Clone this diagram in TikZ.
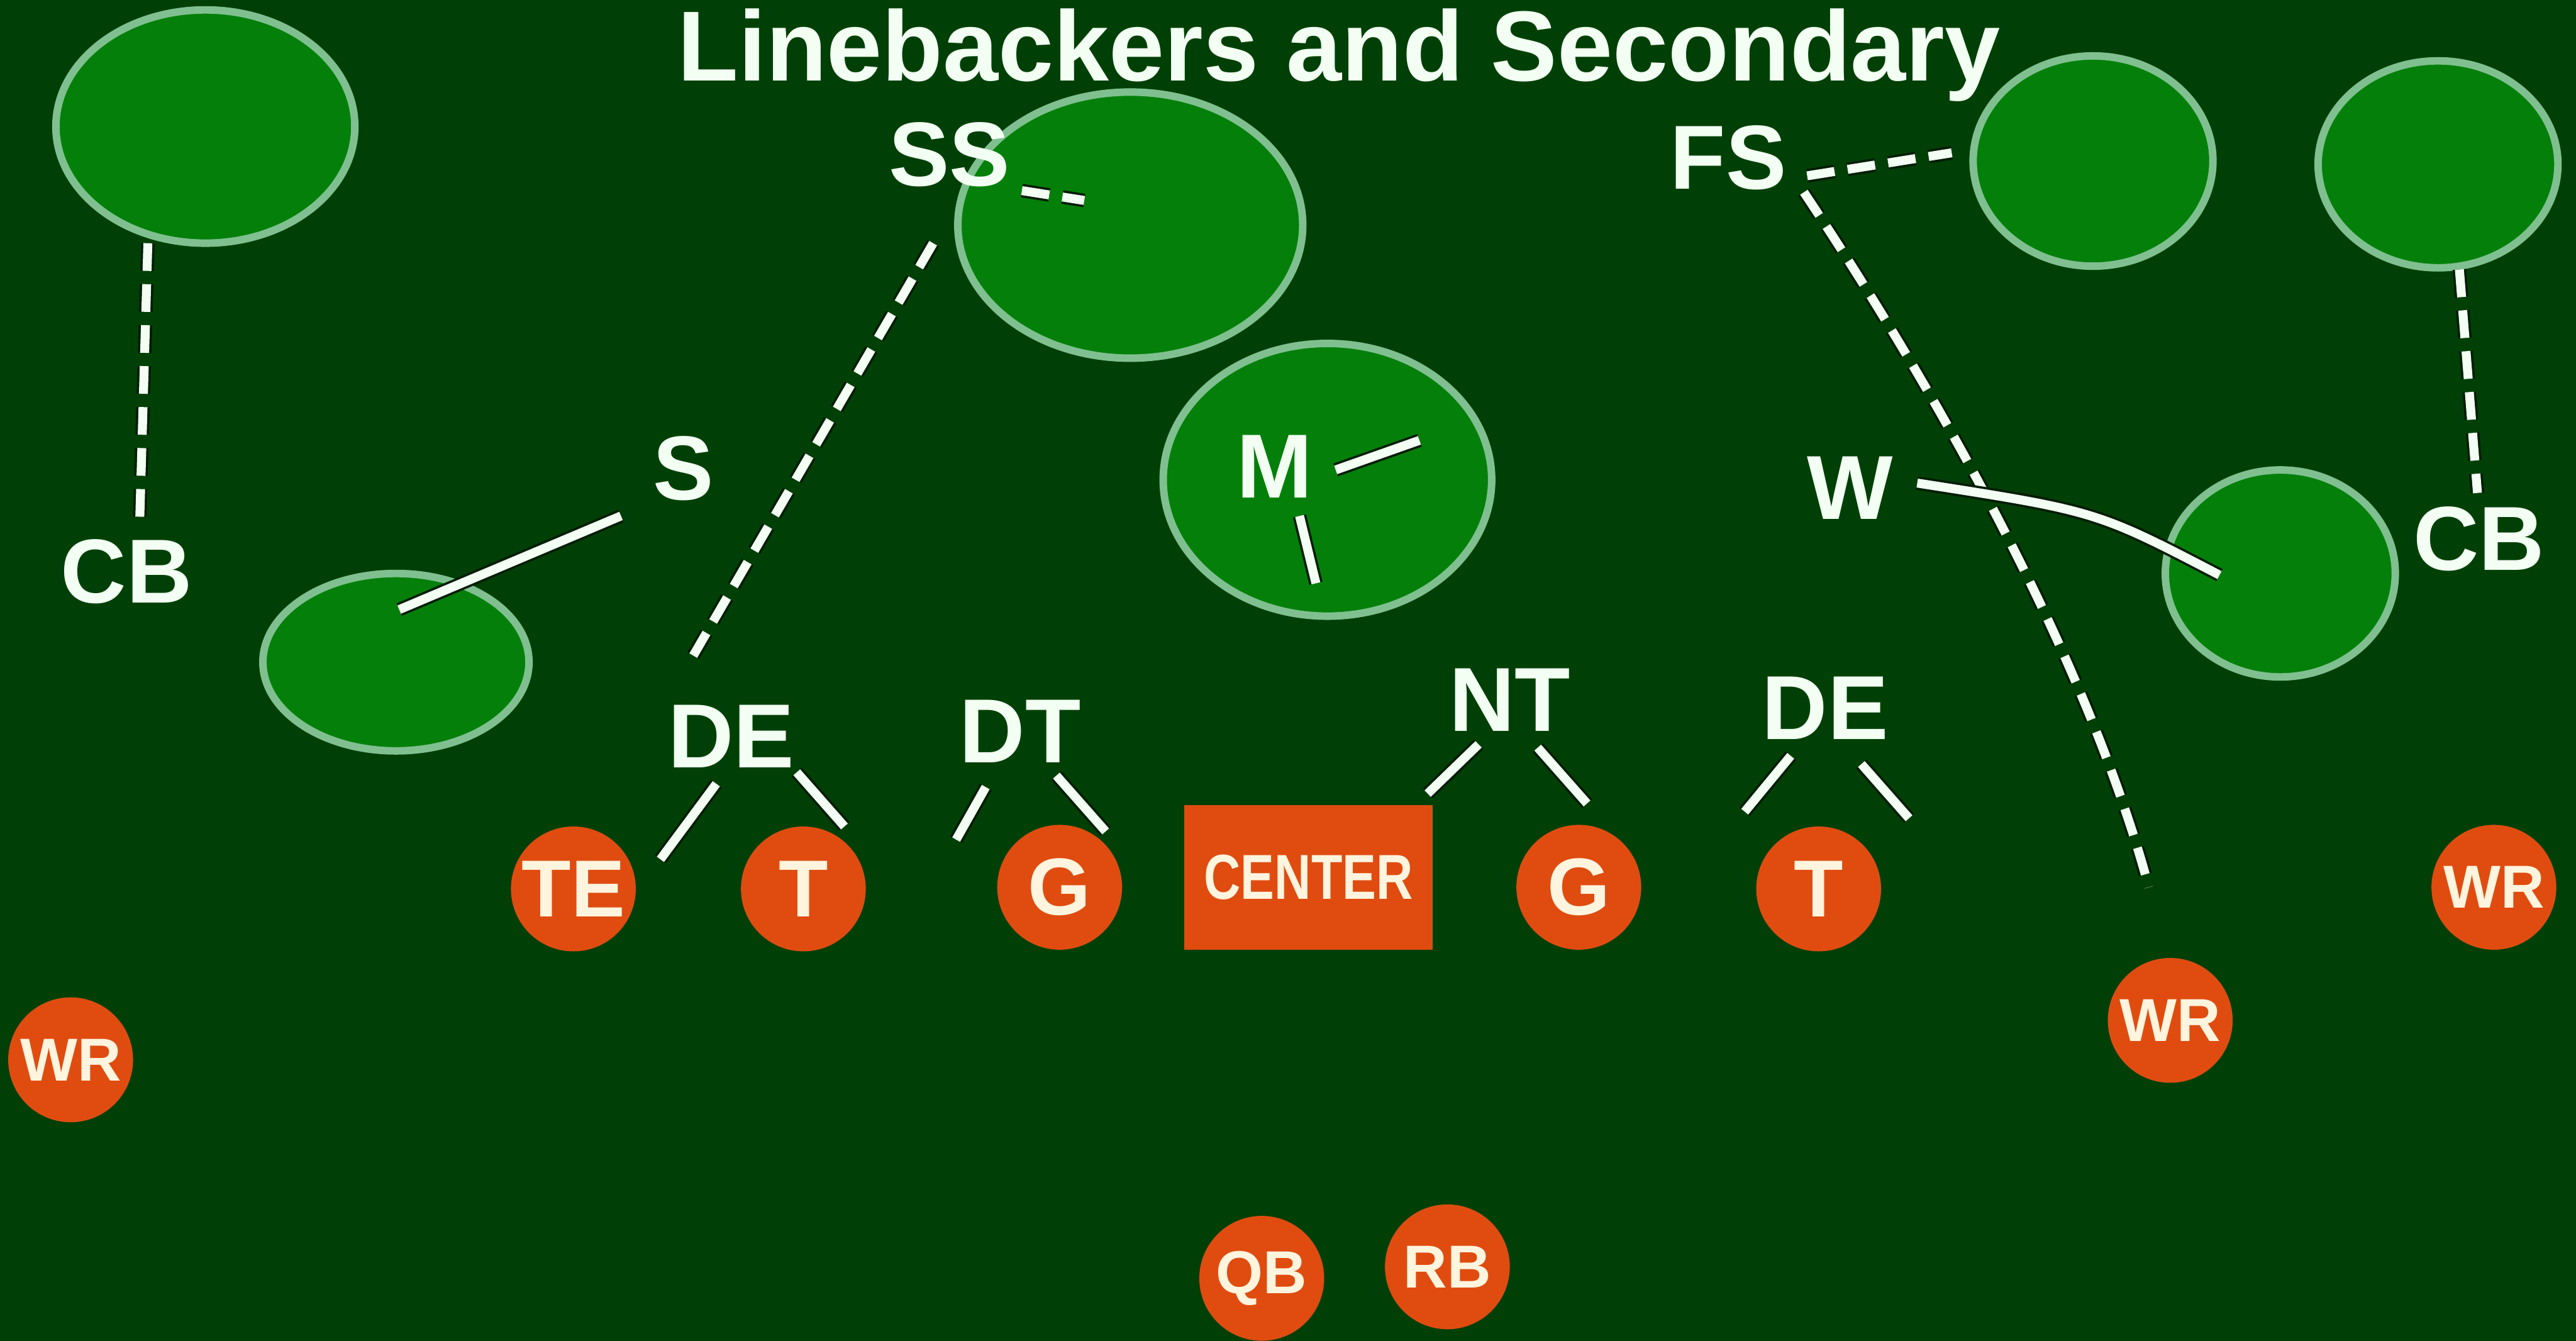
\documentclass[tikz,border=0pt]{standalone}
\usepackage{fontspec}
\setmainfont{Liberation Sans}
\usetikzlibrary{shapes.geometric,calc}
\definecolor{field}{RGB}{0,64,6}
\definecolor{zonefill}{RGB}{4,128,10}
\definecolor{zoneedge}{RGB}{128,192,144}
\definecolor{orng}{RGB}{224,76,16}
\definecolor{cream}{RGB}{255,244,222}
\definecolor{chalk}{RGB}{242,255,242}
\definecolor{shade}{RGB}{0,28,4}
\begin{document}
\begin{tikzpicture}[x=0.02cm,y=-0.02cm,
  zone/.style={ellipse, draw=zoneedge, line width=2.6pt, fill=zonefill, inner sep=0pt},
  lbl/.style={text=chalk, font=\bfseries\fontsize{31.5}{31.5}\selectfont, inner sep=0pt},
  player/.style={circle, fill=orng, minimum size=1.52cm, inner sep=0pt, text=cream, font=\bfseries\fontsize{28}{28}\selectfont},
  smallp/.style={font=\bfseries\fontsize{21}{21}\selectfont},
  solidline/.style={draw=shade, line width=0.8pt, double=chalk, double distance=3.1pt},
  dashline/.style={solidline, dash pattern=on 9.6pt off 4.6pt}]
\useasboundingbox (0,0) rectangle (1568,816);
\fill[field] (0,0) rectangle (1568,816);

% title
\node[text=chalk, inner sep=0pt, anchor=base, font=\bfseries\fontsize{34.5}{34.5}\selectfont] (title) at (815,49) {Linebackers and Secondary};

% coverage zones
\node[zone, minimum width=3.64cm, minimum height=2.84cm] (ellTL) at (125,77) {};
\node[zone, minimum width=4.2cm, minimum height=3.24cm] (ellSS) at (688,137) {};
\node[zone, minimum width=4.0cm, minimum height=3.32cm] (ellM) at (808,292) {};
\node[zone, minimum width=2.92cm, minimum height=2.56cm] (ellFS) at (1274,98) {};
\node[zone, minimum width=2.92cm, minimum height=2.52cm] (ellFR) at (1484,100) {};
\node[zone, minimum width=3.24cm, minimum height=2.16cm] (ellS) at (241,403) {};
\node[zone, minimum width=2.8cm, minimum height=2.52cm] (ellW) at (1388,349) {};

% defensive labels
\node[lbl] (cbL) at (77,348) {CB};
\node[lbl] (s) at (416,285) {S};
\node[lbl] (ss) at (578,94) {SS};
\node[lbl] (fs) at (1052,96) {FS};
\node[lbl] (m) at (776,284) {M};
\node[lbl] (w) at (1126,297) {W};
\node[lbl] (cbR) at (1509,328) {CB};
\node[lbl] (deL) at (445,448) {DE};
\node[lbl] (dt) at (621,445) {DT};
\node[lbl] (nt) at (919,426) {NT};
\node[lbl] (deR) at (1111,431) {DE};

% offense
\node[player] (teC) at (349,541) {TE};
\node[player] (tL) at (489,541) {T};
\node[player] (gL) at (645,540) {G};
\node[rectangle, fill=orng, minimum width=3.02cm, minimum height=1.76cm, inner sep=0pt, text=cream, font=\bfseries\fontsize{22}{22}\selectfont] (ctr) at (796.5,534) {\scalebox{0.8}[1]{CENTER}};
\node[player] (gR) at (961,540) {G};
\node[player] (tR) at (1107,541) {T};
\node[player, smallp] (wrFR) at (1518,540) {WR};
\node[player, smallp] (wrR) at (1321,621) {WR};
\node[player, smallp] (wrL) at (43,645) {WR};
\node[player, smallp] (qb) at (768,778) {QB};
\node[player, smallp] (rb) at (881,771) {RB};

% dashed assignments
\draw[dashline] ($(ellTL)+(-35,71)$) -- ($(cbL)+(8,-30)$);
\draw[dashline] ($(ss)+(-10,54)$) -- ($(deL)+(-23,-49)$);
\draw[dashline] ($(ss)+(44,22)$) -- ($(ss)+(82,28)$);
\draw[dashline] ($(fs)+(48,11)$) -- ($(ellFS)+(-86,-5)$);
\draw[dashline] ($(fs)+(46,21)$) .. controls ($(fs)+(128,144)$) and ($(wrR)+(-51,-221)$) .. ($(wrR)+(-13,-81)$);
\draw[dashline] ($(ellFR)+(13,64)$) -- ($(cbR)+(-1,-28)$);

% solid assignments
\draw[solidline] ($(s)+(-38,29)$) -- ($(ellS)+(2,-32)$);
\draw[solidline] ($(m)+(37,2)$) -- ($(m)+(88,-16)$);
\draw[solidline] ($(m)+(15,30)$) -- ($(m)+(25,71)$);
\draw[solidline] ($(w)+(41,-3)$) .. controls ($(ellW)+(-112,-38)$) .. ($(ellW)+(-37,1)$);

% line gaps
\draw[solidline] ($(deL)+(-9,29)$) -- ($(deL)+(-43,75)$);
\draw[solidline] ($(deL)+(40,22)$) -- ($(deL)+(69,55)$);
\draw[solidline] ($(dt)+(-21,34)$) -- ($(dt)+(-39,66)$);
\draw[solidline] ($(dt)+(22,27)$) -- ($(dt)+(52,61)$);
\draw[solidline] ($(nt)+(-19,27)$) -- ($(nt)+(-50,57)$);
\draw[solidline] ($(nt)+(17,29)$) -- ($(nt)+(47,63)$);
\draw[solidline] ($(deR)+(-21,29)$) -- ($(deR)+(-49,63)$);
\draw[solidline] ($(deR)+(22,34)$) -- ($(deR)+(51,67)$);
\end{tikzpicture}
\end{document}
